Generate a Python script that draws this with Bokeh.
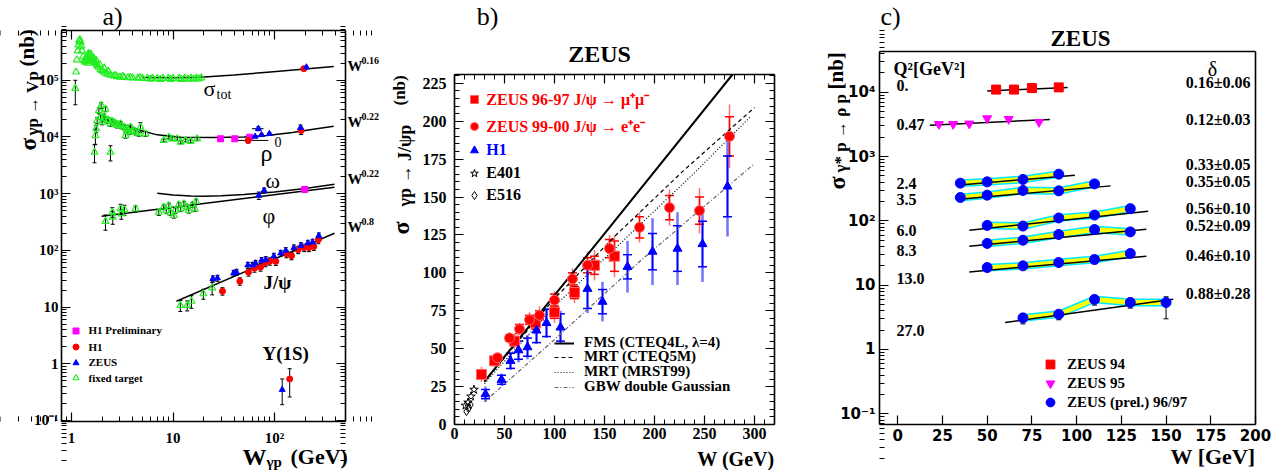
import math
from bokeh.plotting import figure
from bokeh.layouts import row
from bokeh.models import (LogAxis, LinearAxis, Label, Legend, LegendItem, Whisker, TeeHead,
                          ColumnDataSource, CustomJSTickFormatter, SingleIntervalTicker,
                          FixedTicker, Range1d)
from bokeh.embed import file_html
from bokeh.resources import INLINE

# ====================== panel a data (nb vs W in GeV) ======================
tot_W = [1.09, 1.11, 1.13, 1.15, 1.17, 1.19, 1.21, 1.23, 1.25, 1.27, 1.30, 1.33, 1.36, 1.39, 1.42, 1.45,
         1.48, 1.51, 1.54, 1.58, 1.62, 1.67, 1.72, 1.78, 1.85, 1.93, 2.02, 2.12, 2.25, 2.40, 2.60, 2.80,
         3.00, 3.30, 3.60, 4.00, 4.50, 5.00, 5.60, 6.30, 7.00, 8.00, 9.00, 10.0, 11.5, 13.0, 15.0, 17.0, 19.0,
         1.40, 1.47, 1.55, 1.65, 1.75, 1.90, 2.10, 2.30, 1.44, 1.52, 1.60, 1.70, 1.82, 2.00,
         2.7, 3.2, 3.8, 4.7, 6.0, 7.5, 9.5, 12.0, 14.0, 16.0, 18.0]
tot_s_k = [72, 140, 230, 330, 420, 500, 520, 470, 400, 330, 260, 225, 210, 215, 235, 270,
           285, 280, 260, 245, 230, 215, 200, 185, 170, 155, 145, 135, 128, 123, 119, 116,
           114, 112, 111, 110, 109, 108, 108, 108, 107, 108, 108, 108, 108, 108, 109, 109, 110,
           240, 300, 290, 250, 225, 190, 165, 145, 200, 240, 225, 205, 180, 150,
           122, 117, 113, 112, 105, 104, 104, 104, 105, 105, 106]          # in 10^3 nb
tot_fit_W = [5, 10, 18.7, 40, 85, 200, 383]
tot_fit_s = [1.12e5, 1.11e5, 1.13e5, 1.24e5, 1.39e5, 1.58e5, 1.75e5]
tot_h1_W, tot_h1_s = [194], [1.6e5]
tot_zeus_W, tot_zeus_s = [206], [1.7e5]

rho_ft_W = [1.685, 2.42, 1.72, 1.75, 1.79, 1.86, 1.96, 2.16, 1.93, 2.00, 2.08, 2.25, 2.42, 2.61, 2.82,
            3.04, 3.28, 3.54, 3.81, 3.40, 3.67, 4.11, 4.60, 5.36, 4.78, 8.1, 9.1, 9.8, 11.0, 11.9,
            13.3, 14.9, 17.3, 2.10, 2.30, 2.50, 2.70, 2.90, 3.10, 3.50, 3.90, 4.30]
rho_ft_s = [5.4e3, 5.4e3, 1.06e4, 1.4e4, 1.95e4, 2.93e4, 3.6e4, 3.1e4, 2.24e4, 1.82e4, 2.1e4, 1.95e4,
            1.71e4, 1.82e4, 1.6e4, 1.71e4, 1.49e4, 1.4e4, 1.49e4, 1.06e4, 1.22e4, 1.3e4, 1.14e4,
            1.14e4, 1.49e4, 8.7e3, 9.9e3, 9.3e3, 9.3e3, 8.1e3, 8.7e3, 8.4e3, 9.3e3,
            2.3e4, 2.0e4, 1.9e4, 1.75e4, 1.65e4, 1.55e4, 1.35e4, 1.25e4, 1.2e4]
rho_ft_err = [0.35, 0.3, 0.3, 0.15, 0.12, 0.12, 0.12, 0.1, 0.1, 0.1, 0.1, 0.1, 0.1, 0.1, 0.1,
              0.1, 0.1, 0.1, 0.1, 0.1, 0.1, 0.1, 0.1, 0.1, 0.2, 0.06, 0.06, 0.06, 0.06, 0.06,
              0.06, 0.06, 0.06, 0.1, 0.1, 0.1, 0.1, 0.1, 0.1, 0.1, 0.1, 0.1]
rho_fit_W = [1.93, 2.5, 3.04, 4.0, 4.78, 7, 11.9, 25, 50, 85, 150, 250, 383]
rho_fit_s = [2.1e4, 1.9e4, 1.71e4, 1.45e4, 1.3e4, 1.09e4, 9.9e3, 9.8e3, 1.0e4, 1.06e4, 1.2e4, 1.38e4, 1.55e4]
rho_h1p_W, rho_h1p_s = [29.4, 40.6, 56.9], [9.3e3, 9.3e3, 9.9e3]
rho_h1_W, rho_h1_s = [55, 183], [8.7e3, 1.3e4]
rho_zeus_W = [64.4, 69.3, 74.5, 89, 180]
rho_zeus_s = [1.02e4, 1.4e4, 1.09e4, 1.14e4, 1.45e4]

omega_fit_W = [7, 10, 15, 20, 30, 50, 100, 200, 390]
omega_fit_s = [1020, 949, 908, 904, 918, 968, 1070, 1240, 1470]
omega_zeus_W, omega_zeus_s = [79], [1140]
omega_h1p_W, omega_h1p_s = [198], [1190]

phi_ft_W = [2.16, 2.52, 2.55, 3.04, 3.1, 3.33, 4.27, 7.24, 8.1, 8.6, 9.1, 9.45, 10.2, 10.6, 11.4, 11.9,
            12.8, 13.8, 14.3, 15.5, 16.9, 16.4]
phi_ft_s = [324, 472, 385, 542, 442, 520, 542, 472, 578, 506, 619, 460, 413, 506, 637, 542,
            664, 578, 506, 637, 728, 542]
phi_ft_err = [0.3, 0.2, 0.25, 0.2, 0.2, 0.2, 0.12, 0.12, 0.1, 0.1, 0.1, 0.1, 0.1, 0.1, 0.1, 0.1,
              0.1, 0.1, 0.1, 0.1, 0.1, 0.1]
phi_fit_W, phi_fit_s = [1.98, 390], [401, 1300]
phi_zeus_W, phi_zeus_s = [70], [930]

jpsi_ft_W = [11.8, 13.8, 15.2, 19.9, 24.3]
jpsi_ft_s = [10.7, 10.7, 12.7, 17.2, 21.9]
jpsi_ft_err = [0.22, 0.2, 0.25, 0.2, 0.25]
jpsi_zeus_W = [24.7, 27.4, 39.5, 42.2, 54.6, 60.7, 65, 74.5, 82, 98.5, 115, 129, 155, 182, 213, 237, 273]
jpsi_zeus_s = [31.6, 32.4, 39.6, 41.3, 54.9, 54.9, 59.5, 66.4, 69.1, 79.1, 89.3, 99.6, 111, 122, 134, 140, 181]
jpsi_h1_W = [30.7, 45.5, 55.4, 63.5, 72.8, 81.5, 89.9, 103, 131, 147, 171, 196, 218, 244, 270]
jpsi_h1_s = [19.1, 28.6, 41.3, 48.5, 50.6, 60.4, 64.5, 63.7, 87.1, 80.3, 103, 112, 112, 117, 154]
jpsi_fit_W, jpsi_fit_s = [10.8, 390], [12.7, 201]

ups_zeus_W, ups_zeus_s, ups_zeus_lo, ups_zeus_hi = [119], [0.35], [0.19], [0.54]
ups_h1_W, ups_h1_s, ups_h1_lo, ups_h1_hi = [141], [0.54], [0.26], [0.82]

a_legend = ["H1 Preliminary", "H1", "ZEUS", "fixed target"]
a_right = ["0.16", "0.22", "0.22", "0.8"]

# ====================== panel b data ======================
zm_W = [27, 40, 60, 81, 100, 120, 140, 160]                       # ZEUS 96-97 mu mu
zm_s = [33, 42, 55, 67, 74, 87, 105, 111]
zm_tot = [5, 4, 5, 6, 7, 7, 10, 14]
zm_stat = [3, 2, 3, 4, 4, 4, 6, 10]
ze_W = [43, 55, 65, 75, 85, 100, 118, 133, 155, 185, 215, 245, 275]  # ZEUS 99-00 e e
ze_s = [44, 57, 63, 69, 72, 82, 96, 105, 116, 130, 143, 141, 190]
ze_tot = [3, 4, 4, 5, 6, 6, 7, 9, 9, 10, 12, 15, 21]
ze_stat = [2, 2, 3, 3, 3, 4, 4, 5, 6, 7, 8, 9, 13]
h1_W = [31, 47, 56, 64, 73, 82, 92, 106, 133, 148, 173, 198, 223, 248, 273]
h1_s = [20, 29.5, 42, 49, 51, 62, 67, 64, 89.5, 81, 104, 114, 116, 119, 157]
h1_tot = [5, 4, 6, 8, 8, 9, 10, 11, 16, 13, 17, 22, 24, 25, 33]
h1_stat = [3, 3, 5, 6, 6, 8, 9, 9, 13, 8, 8, 12, 15, 15, 20]
e401_W, e401_s = [11, 13.5, 16.5, 19.5], [12.5, 14.5, 18.5, 23]
e516_W, e516_s = [12, 14, 16], [8.5, 10.5, 13]
fms_W, fms_s = [30, 146, 278], [28.5, 122.5, 230.8]
cteq_W, cteq_s = [30, 60, 100, 160, 230, 300], [28, 52, 83, 124, 168, 209]
mrst_W, mrst_s = [30, 60, 100, 170, 240, 296], [27, 49, 78, 122, 166, 203]
gbw_W, gbw_s = [30, 100, 186, 299], [15, 56, 108, 171.5]
b_legend = ["ZEUS 96-97 J/ψ → μ⁺μ⁻", "ZEUS 99-00 J/ψ → e⁺e⁻", "H1", "E401", "E516"]
b_lines = ["FMS (CTEQ4L, λ=4)", "MRT (CTEQ5M)", "MRT (MRST99)", "GBW double Gaussian"]

# ====================== panel c data ======================
z94_W, z94_s = [55, 65, 75, 90], [1.10e4, 1.10e4, 1.16e4, 1.19e4]
z94_fit_W, z94_fit_s = [50, 95], [1.05e4, 1.19e4]
z95_W = [23, 31, 40, 50, 62, 79]
z95_s = [3190, 3190, 3240, 3920, 3820, 3430]
z95_fit_W, z95_fit_s = [18, 85], [3080, 3780]
rows_W = [[35, 50, 70, 90], [35, 50, 70, 90, 110], [50, 70, 90, 110, 130],
          [50, 70, 90, 110, 130], [50, 70, 90, 110, 130], [70, 90, 110, 130, 150]]
rows_s = [[386, 404, 441, 532], [231, 251, 297, 293, 376], [85, 83, 111, 123, 155],
          [44.6, 50, 61.4, 73.4, 67.4], [18.8, 20, 22.5, 25.1, 31.1], [3.1, 3.54, 6.0, 5.38, 5.38]]
fits_W = [[33, 99], [33, 119], [40, 140], [40, 139], [40, 139], [60, 154]]
fits_s = [[359, 514], [215, 350], [71.6, 141.6], [40.4, 74.3], [16.1, 28.2], [2.63, 6.05]]
r130_lo, r130_hi = [16.5, 17.5, 19.8, 21.5, 27], [20.5, 22, 24.8, 27.5, 34]
r270_lo, r270_hi = [2.5, 2.9, 4.9, 4.4, 3.0], [3.6, 4.0, 6.8, 6.3, 6.6]
q2_labels = ["0.", "0.47", "2.4", "3.5", "6.0", "8.3", "13.0", "27.0"]
delta_labels = ["0.16±0.06", "0.12±0.03", "0.33±0.05", "0.35±0.05", "0.56±0.10", "0.52±0.09",
                "0.46±0.10", "0.88±0.28"]
c_legend = ["ZEUS 94", "ZEUS 95", "ZEUS (prel.) 96/97"]

# ====================== helpers ======================
SERIF = "Liberation Serif"
SANS = "DejaVu Sans"
RED, BLUE, MAG, GREEN = "#ff0000", "#0000ff", "#ff00ff", "#22ee22"
H = 470
CANVAS = {"a": (0, 384), "b": (384, 416), "c": (800, 486)}     # page x of canvas, canvas width

LOG_FMT = """
const e = Math.round(Math.log10(tick));
const sup = {"-1": "\u207b\u00b9", "2": "\u00b2", "3": "\u00b3", "4": "\u2074", "5": "\u2075", "6": "\u2076"};
if (e === 0) return "1";
if (e === 1) return "10";
return "10" + sup[String(e)];
"""


def extend(v0, v1, p0, p1, c0, c1, log):
    """Range end values at canvas pixels c0, c1 given the box values v0, v1 at pixels p0, p1."""
    f = (lambda v: math.log10(v)) if log else (lambda v: v)
    g = (lambda u: 10 ** u) if log else (lambda u: u)
    a = (f(v1) - f(v0)) / (p1 - p0)
    return Range1d(g(f(v0) + a * (c0 - p0)), g(f(v0) + a * (c1 - p0)))


def make_fig(key, box_x, box_px, box_y, box_py, xlog, ylog):
    left, width = CANVAS[key]
    xr = extend(box_x[0], box_x[1], box_px[0] - left, box_px[1] - left, 0, width, xlog)
    yr = extend(box_y[0], box_y[1], H - box_py[0], H - box_py[1], 0, H, ylog)
    p = figure(width=width, height=H, x_range=xr, y_range=yr,
               x_axis_type="log" if xlog else "linear", y_axis_type="log" if ylog else "linear",
               x_axis_location=None, y_axis_location=None,
               output_backend="svg", toolbar_location=None, min_border=0)
    try:
        p.frame_align = False
    except Exception:
        pass
    p.grid.visible = False
    p.outline_line_color = None
    p.background_fill_color = "white"
    p.border_fill_color = "white"
    return p


def add_axis(p, side, log, loc, bounds, ticker, formatter=None, font=SERIF, size="15px", standoff=4):
    cls = LogAxis if log else LinearAxis
    kw = dict(fixed_location=loc, bounds=bounds, ticker=ticker)
    kw["formatter"] = formatter if formatter is not None else CustomJSTickFormatter(code="return '';")
    ax = cls(**kw)
    ax.axis_line_color = "black"
    ax.axis_line_width = 1.6
    ax.major_tick_in = 9
    ax.major_tick_out = 0
    ax.minor_tick_in = 5
    ax.minor_tick_out = 0
    ax.major_tick_line_color = "black"
    ax.minor_tick_line_color = "black"
    ax.major_tick_line_width = 1.2
    ax.major_label_text_font = font
    ax.major_label_text_font_style = "bold"
    ax.major_label_text_font_size = size
    ax.major_label_standoff = standoff
    ax.major_label_text_color = "black"
    p.add_layout(ax, side)


def put(p, key, x, y, text, size, style="bold", font=SERIF, align="left", baseline="middle",
        angle=0.0, color="black"):
    left = CANVAS[key][0]
    p.add_layout(Label(x=x - left, y=H - y, x_units="screen", y_units="screen",
                       text=text, text_font=font, text_font_size=f"{size}px", text_font_style=style,
                       text_align=align, text_baseline=baseline, angle=angle, text_color=color))


def leg(p, key, renderer, label, cx, cy, text_x, gw, gh, size, color="black"):
    left = CANVAS[key][0]
    x0 = cx - gw / 2
    p.add_layout(Legend(items=[LegendItem(label=label, renderers=[renderer])],
                        location=(x0 - left, H - (cy + gh / 2)),
                        glyph_width=gw, glyph_height=gh, label_height=gh, label_width=10,
                        label_standoff=int(round(text_x - (x0 + gw))), padding=0, margin=0, spacing=0,
                        border_line_color=None, background_fill_alpha=0,
                        label_text_font=SERIF, label_text_font_size=f"{size}px",
                        label_text_font_style="bold", label_text_color=color))


def bars(p, xs, lo, hi, color="black", width=1.0, head=4, dim="height", alpha=1.0):
    src = ColumnDataSource(dict(b=list(xs), l=list(lo), u=list(hi)))
    uh = TeeHead(size=head, line_color=color, line_width=width, line_alpha=alpha) if head else None
    lh = TeeHead(size=head, line_color=color, line_width=width, line_alpha=alpha) if head else None
    p.add_layout(Whisker(source=src, base="b", lower="l", upper="u", dimension=dim,
                         line_color=color, line_width=width, line_alpha=alpha,
                         upper_head=uh, lower_head=lh))


def rel_bars(p, xs, ys, rel, **kw):
    bars(p, xs, [y * (1 - r) for y, r in zip(ys, rel)], [y * (1 + r) for y, r in zip(ys, rel)], **kw)


def decade_ticks(e0, e1):
    return [10.0 ** e for e in range(e0, e1 + 1)], [m * 10.0 ** e for e in range(e0 - 1, e1 + 1) for m in range(2, 10)]


HALF = math.pi / 2

# ====================== panel a ======================
AX, AY = (0.797, 500), (0.096, 7.55e5)
pa = make_fig("a", AX, (61, 345), AY, (421, 30), True, True)
ax_maj, ax_min = decade_ticks(0, 2)
ay_maj, ay_min = decade_ticks(-1, 5)
add_axis(pa, "below", True, AY[0], AX, FixedTicker(ticks=ax_maj, minor_ticks=ax_min),
         CustomJSTickFormatter(code=LOG_FMT), standoff=8)
add_axis(pa, "left", True, AX[0], AY, FixedTicker(ticks=ay_maj, minor_ticks=ay_min),
         CustomJSTickFormatter(code=LOG_FMT), standoff=3)
add_axis(pa, "above", True, AY[1], AX, FixedTicker(ticks=ax_maj, minor_ticks=ax_min))
add_axis(pa, "right", True, AX[1], AY, FixedTicker(ticks=ay_maj, minor_ticks=ay_min))

for fw, fs in [(tot_fit_W, tot_fit_s), (rho_fit_W, rho_fit_s), (omega_fit_W, omega_fit_s),
               (phi_fit_W, phi_fit_s), (jpsi_fit_W, jpsi_fit_s)]:
    pa.line(fw, fs, line_color="black", line_width=1.5)

tot_s = [v * 1000 for v in tot_s_k]
bars(pa, [tot_W[0]], [3.7e4], [1.0e5])
rel_bars(pa, rho_ft_W, rho_ft_s, rho_ft_err)
rel_bars(pa, phi_ft_W, phi_ft_s, phi_ft_err)
rel_bars(pa, jpsi_ft_W, jpsi_ft_s, jpsi_ft_err)
rel_bars(pa, jpsi_zeus_W, jpsi_zeus_s, [0.12] * len(jpsi_zeus_W))
rel_bars(pa, jpsi_h1_W, jpsi_h1_s, [0.15] * len(jpsi_h1_W))
rel_bars(pa, rho_h1_W + rho_zeus_W, rho_h1_s + rho_zeus_s, [0.1, 0.15, 0.04, 0.08, 0.04, 0.04, 0.12])
bars(pa, [rho_h1_s[0]], [41], [87], dim="width", head=0)
bars(pa, [rho_zeus_s[1]], [60], [78], dim="width", head=0)
rel_bars(pa, omega_zeus_W + phi_zeus_W + omega_h1p_W, omega_zeus_s + phi_zeus_s + omega_h1p_s, [0.1, 0.15, 0.12])
bars(pa, ups_zeus_W + ups_h1_W, ups_zeus_lo + ups_h1_lo, ups_zeus_hi + ups_h1_hi)

g_all_W = tot_W + rho_ft_W + phi_ft_W + jpsi_ft_W
g_all_s = tot_s + rho_ft_s + phi_ft_s + jpsi_ft_s
r_green = pa.scatter(g_all_W, g_all_s, marker="triangle", size=7, fill_color=None,
                     line_color=GREEN, line_width=1.2)
r_mag = pa.scatter(rho_h1p_W + omega_h1p_W, rho_h1p_s + omega_h1p_s, marker="square", size=6,
                   fill_color=MAG, line_color=MAG)
r_red = pa.scatter(tot_h1_W + rho_h1_W + jpsi_h1_W + ups_h1_W, tot_h1_s + rho_h1_s + jpsi_h1_s + ups_h1_s,
                   marker="circle", size=6, fill_color=RED, line_color=RED)
r_blue = pa.scatter(tot_zeus_W + rho_zeus_W + omega_zeus_W + phi_zeus_W + jpsi_zeus_W + ups_zeus_W,
                    tot_zeus_s + rho_zeus_s + omega_zeus_s + phi_zeus_s + jpsi_zeus_s + ups_zeus_s,
                    marker="triangle", size=6, fill_color=BLUE, line_color=BLUE)

for r, lab, cy in zip([r_mag, r_red, r_blue, r_green], a_legend, [330, 346.7, 362.3, 377.7]):
    leg(pa, "a", r, lab, 75, cy, 88, 15, 15, 11)

put(pa, "a", 112, 16, "a)", 26, style="normal", align="center")
put(pa, "a", 203, 88, "σ", 22, style="normal")
put(pa, "a", 216, 94, "tot", 14, style="normal")
put(pa, "a", 260, 152, "ρ", 24, style="normal")
put(pa, "a", 274, 141, "0", 14, style="normal")
put(pa, "a", 265, 180, "ω", 22, style="normal")
put(pa, "a", 262, 215, "φ", 22, style="normal")
put(pa, "a", 263, 282, "J/ψ", 19)
put(pa, "a", 262, 353, "Υ(1S)", 19)
for t, y in zip(a_right, [65, 121, 178, 226]):
    put(pa, "a", 347, y, "W", 15)
    put(pa, "a", 361, y - 5, t, 10)
put(pa, "a", 28, 150, "σ", 23, angle=HALF)
put(pa, "a", 32, 135, "γp → Vp", 17, angle=HALF)
put(pa, "a", 26, 66, "(nb)", 21, angle=HALF)
put(pa, "a", 242, 456, "W", 24, baseline="alphabetic")
put(pa, "a", 266, 461, "γp", 15, baseline="alphabetic")
put(pa, "a", 290, 456, "(GeV)", 22, baseline="alphabetic")

# ====================== panel b ======================
BX, BY = (0, 320), (0, 230.8)
pb = make_fig("b", BX, (454, 774), BY, (424, 74), False, False)
add_axis(pb, "below", False, BY[0], BX, SingleIntervalTicker(interval=50, num_minor_ticks=5),
         CustomJSTickFormatter(code="return tick.toFixed(0);"), size="16px", standoff=3)
add_axis(pb, "left", False, BX[0], BY, SingleIntervalTicker(interval=25, num_minor_ticks=5),
         CustomJSTickFormatter(code="return tick.toFixed(0);"), size="16px", standoff=8)
add_axis(pb, "above", False, BY[1], BX, SingleIntervalTicker(interval=50, num_minor_ticks=5))
add_axis(pb, "right", False, BX[1], BY, SingleIntervalTicker(interval=25, num_minor_ticks=5))

l_fms = pb.line(fms_W, fms_s, line_color="black", line_width=2)
l_cteq = pb.line(cteq_W, cteq_s, line_color="black", line_width=1.2, line_dash="4 3")
l_mrst = pb.line(mrst_W, mrst_s, line_color="black", line_width=1.2, line_dash="1 2")
l_gbw = pb.line(gbw_W, gbw_s, line_color="#666666", line_width=1.2, line_dash="4 2 1 2")

for W, s, tot, st, col in [(zm_W, zm_s, zm_tot, zm_stat, RED), (ze_W, ze_s, ze_tot, ze_stat, RED),
                           (h1_W, h1_s, h1_tot, h1_stat, BLUE)]:
    bars(pb, W, [a - b for a, b in zip(s, tot)], [a + b for a, b in zip(s, tot)], color=col,
         width=2.5 if col == BLUE else 1.5, head=0, alpha=0.55)
    bars(pb, W, [a - b for a, b in zip(s, st)], [a + b for a, b in zip(s, st)], color=col,
         width=1.5, head=9)

r_zm = pb.scatter(zm_W, zm_s, marker="square", size=10, fill_color=RED, line_color="#ff6666")
r_ze = pb.scatter(ze_W, ze_s, marker="circle", size=10, fill_color=RED, line_color="#ff6666")
r_h1 = pb.scatter(h1_W, h1_s, marker="triangle", size=9, fill_color=BLUE, line_color=BLUE)
r_e401 = pb.scatter(e401_W, e401_s, marker="star", size=9, fill_color=None, line_color="black")
r_e516 = pb.scatter(e516_W, e516_s, marker="diamond", size=8, fill_color=None, line_color="black")

for r, lab, cy, col in zip([r_zm, r_ze, r_h1, r_e401, r_e516], b_legend, [100, 126.7, 150, 172.7, 195],
                           [RED, RED, BLUE, "black", "black"]):
    leg(pb, "b", r, lab, 474.3, cy, 486, 20, 20, 16, color=col)
for r, lab, cy in zip([l_fms, l_cteq, l_mrst, l_gbw], b_lines, [344.3, 358.3, 373.3, 388.3]):
    leg(pb, "b", r, lab, 564, cy, 584, 20, 14, 15)

put(pb, "b", 487, 16, "b)", 26, style="normal", align="center")
put(pb, "b", 599, 53, "ZEUS", 24, align="center")
put(pb, "b", 400, 234, "σ", 24, angle=HALF)
put(pb, "b", 404, 206, "γp → J/ψp", 18, angle=HALF)
put(pb, "b", 399, 105, "(nb)", 17, angle=HALF)
put(pb, "b", 774, 458, "W (GeV)", 20, align="right", baseline="alphabetic")

# ====================== panel c ======================
CX, CY = (-10.2, 200), (0.0682, 4.3e4)
pc = make_fig("c", CX, (879, 1255), CY, (424, 51), False, True)
cy_maj, cy_min = decade_ticks(-1, 4)
add_axis(pc, "below", False, CY[0], CX, SingleIntervalTicker(interval=25, num_minor_ticks=0),
         CustomJSTickFormatter(code="return tick.toFixed(0);"), font=SANS, size="15px", standoff=4)
add_axis(pc, "left", True, CX[0], CY, FixedTicker(ticks=cy_maj, minor_ticks=cy_min),
         CustomJSTickFormatter(code=LOG_FMT), font=SANS, size="15px", standoff=4)
add_axis(pc, "above", False, CY[1], CX, FixedTicker(ticks=[]))
add_axis(pc, "right", True, CX[1], CY, FixedTicker(ticks=[]))

for W, s in zip(rows_W, rows_s):
    lo = [v / 1.12 for v in s]
    hi = [v * 1.12 for v in s]
    pc.varea(x=W, y1=lo, y2=hi, fill_color="#ffff00")
    pc.line(W, lo, line_color="#00e8ff", line_width=1.5)
    pc.line(W, hi, line_color="#00e8ff", line_width=1.5)
for fw, fs in zip(fits_W + [z94_fit_W, z95_fit_W], fits_s + [z94_fit_s, z95_fit_s]):
    pc.line(fw, fs, line_color="black", line_width=1.5)
bars(pc, rows_W[4], r130_lo, r130_hi, head=5)
bars(pc, rows_W[5], r270_lo, r270_hi, head=5)

r94 = pc.scatter(z94_W, z94_s, marker="square", size=9, fill_color=RED, line_color=RED)
r95 = pc.scatter(z95_W, z95_s, marker="inverted_triangle", size=9, fill_color=MAG, line_color=MAG)
all_W = [w for W in rows_W for w in W]
all_s = [v for s in rows_s for v in s]
r97 = pc.scatter(all_W, all_s, marker="circle", size=10, fill_color=BLUE, line_color=BLUE)

for r, lab, cy in zip([r94, r95, r97], c_legend, [364, 383.3, 402.3]):
    leg(pc, "c", r, lab, 1050, cy, 1067, 22, 22, 15)

put(pc, "c", 890, 16, "c)", 26, style="normal", align="center")
put(pc, "c", 1080, 38, "ZEUS", 23, align="center")
put(pc, "c", 836, 189, "σ", 24, angle=HALF)
put(pc, "c", 840, 172, "γ* p → ρ p", 17, angle=HALF)
put(pc, "c", 835, 89, "[nb]", 21, angle=HALF)
put(pc, "c", 1255, 456, "W [GeV]", 22, align="right", baseline="alphabetic")
put(pc, "c", 893, 68, "Q²[GeV²]", 18)
for t, y in zip(q2_labels, [85, 124, 183, 199, 230, 250, 278, 330]):
    put(pc, "c", 896, y, t, 16)
put(pc, "c", 1212, 68, "δ", 20, style="normal", align="center")
for t, y in zip(delta_labels, [82, 119, 164, 181, 208, 225, 255, 293]):
    put(pc, "c", 1250, y, t, 16, align="right")

layout = row(pa, pb, pc)
open("out.html", "w").write(file_html(layout, INLINE))
